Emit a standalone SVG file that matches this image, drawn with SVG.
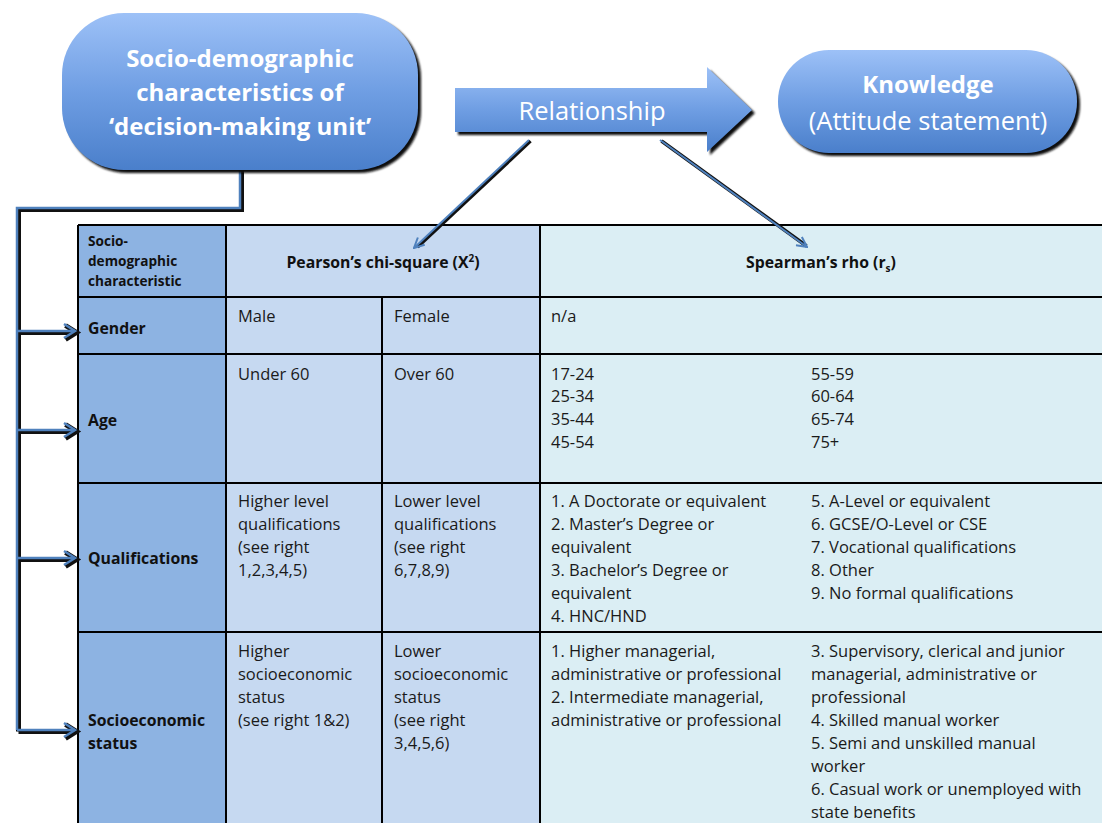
<svg xmlns="http://www.w3.org/2000/svg" width="1102" height="823" viewBox="0 0 1102 823">
  <defs>
    <linearGradient id="nodeFill" x1="0" y1="0" x2="0" y2="1">
      <stop offset="0" stop-color="#9dc1f7"/>
      <stop offset="0.5" stop-color="#6f9ee3"/>
      <stop offset="1" stop-color="#4a7fcb"/>
    </linearGradient>
    <filter id="soft" x="-10%" y="-10%" width="120%" height="130%">
      <feGaussianBlur stdDeviation="1.2"/>
    </filter>
    <marker id="vHead" viewBox="0 0 12 12" refX="11" refY="6" markerWidth="12" markerHeight="12" markerUnits="userSpaceOnUse" orient="auto">
      <path d="M1,1 L11,6 L1,11" fill="none" stroke="#4f81bd" stroke-width="2"/>
    </marker>
  </defs>
  <style>
    .head { font-family: "Open Sans", "Lato", sans-serif; font-size: 24px; fill: #ffffff; text-anchor: middle; }
    .reg { font-size: 25.5px; }
    .b { font-weight: bold; }
    .cell { font-family: "Open Sans", "Liberation Sans", sans-serif; font-size: 16.5px; fill: #1a1a1a; }
    .lab { font-family: "Open Sans", "Liberation Sans", sans-serif; font-size: 15.8px; font-weight: bold; fill: #111; }
    .small { font-family: "Open Sans", "Liberation Sans", sans-serif; font-size: 13.6px; font-weight: bold; fill: #111; }
    .grid { stroke: #000; stroke-width: 2; fill: none; }
    .shadow { fill: #111; filter: url(#soft); }
    .wireDark { fill: none; stroke: #111; stroke-width: 5; stroke-linejoin: miter; }
    .wire { fill: none; stroke: #4f81bd; stroke-width: 2.5; stroke-linejoin: miter; }
  </style>

  <rect width="1102" height="823" fill="#ffffff"/>

  <!-- table -->
  <g id="table">
    <rect x="78" y="225" width="148" height="600" fill="#8db3e2"/>
    <rect x="226" y="225" width="314" height="600" fill="#c6d9f1"/>
    <rect x="540" y="225" width="564" height="600" fill="#dbeef4"/>
    <path class="grid" d="M78,225 H1104 M78,297 H1104 M78,354 H1104 M78,483 H1104 M78,632 H1104 M78,225 V825 M226,225 V825 M382,297 V825 M540,225 V825"/>

    <text class="small" x="88" y="246">Socio-</text>
    <text class="small" x="88" y="266">demographic</text>
    <text class="small" x="88" y="286">characteristic</text>
    <text class="lab" x="383" y="268" text-anchor="middle" font-size="15">Pearson’s chi-square (X<tspan font-size="10" dy="-6">2</tspan><tspan dy="6">)</tspan></text>
    <text class="lab" x="821" y="268" text-anchor="middle" font-size="15">Spearman’s rho (r<tspan font-size="10" dy="4">s</tspan><tspan dy="-4">)</tspan></text>

    <text class="lab" x="88" y="334">Gender</text>
    <text class="cell" x="238" y="322">Male</text>
    <text class="cell" x="394" y="322">Female</text>
    <text class="cell" x="551" y="322">n/a</text>

    <text class="lab" x="88" y="426">Age</text>
    <text class="cell" x="238" y="380">Under 60</text>
    <text class="cell" x="394" y="380">Over 60</text>
    <text class="cell" x="551" y="380">17-24</text>
    <text class="cell" x="551" y="402">25-34</text>
    <text class="cell" x="551" y="425">35-44</text>
    <text class="cell" x="551" y="448">45-54</text>
    <text class="cell" x="811" y="380">55-59</text>
    <text class="cell" x="811" y="402">60-64</text>
    <text class="cell" x="811" y="425">65-74</text>
    <text class="cell" x="811" y="448">75+</text>

    <text class="lab" x="88" y="564">Qualifications</text>
    <text class="cell" x="238" y="507">Higher level</text>
    <text class="cell" x="238" y="530">qualifications</text>
    <text class="cell" x="238" y="553">(see right</text>
    <text class="cell" x="238" y="576">1,2,3,4,5)</text>
    <text class="cell" x="394" y="507">Lower level</text>
    <text class="cell" x="394" y="530">qualifications</text>
    <text class="cell" x="394" y="553">(see right</text>
    <text class="cell" x="394" y="576">6,7,8,9)</text>
    <text class="cell" x="551" y="507">1. A Doctorate or equivalent</text>
    <text class="cell" x="551" y="530">2. Master’s Degree or</text>
    <text class="cell" x="551" y="553">equivalent</text>
    <text class="cell" x="551" y="576">3. Bachelor’s Degree or</text>
    <text class="cell" x="551" y="599">equivalent</text>
    <text class="cell" x="551" y="622">4. HNC/HND</text>
    <text class="cell" x="811" y="507">5. A-Level or equivalent</text>
    <text class="cell" x="811" y="530">6. GCSE/O-Level or CSE</text>
    <text class="cell" x="811" y="553">7. Vocational qualifications</text>
    <text class="cell" x="811" y="576">8. Other</text>
    <text class="cell" x="811" y="599">9. No formal qualifications</text>

    <text class="lab" x="88" y="726">Socioeconomic</text>
    <text class="lab" x="88" y="749">status</text>
    <text class="cell" x="238" y="657">Higher</text>
    <text class="cell" x="238" y="680">socioeconomic</text>
    <text class="cell" x="238" y="703">status</text>
    <text class="cell" x="238" y="726">(see right 1&amp;2)</text>
    <text class="cell" x="394" y="657">Lower</text>
    <text class="cell" x="394" y="680">socioeconomic</text>
    <text class="cell" x="394" y="703">status</text>
    <text class="cell" x="394" y="726">(see right</text>
    <text class="cell" x="394" y="749">3,4,5,6)</text>
    <text class="cell" x="551" y="657">1. Higher managerial,</text>
    <text class="cell" x="551" y="680">administrative or professional</text>
    <text class="cell" x="551" y="703">2. Intermediate managerial,</text>
    <text class="cell" x="551" y="726">administrative or professional</text>
    <text class="cell" x="811" y="657">3. Supervisory, clerical and junior</text>
    <text class="cell" x="811" y="680">managerial, administrative or</text>
    <text class="cell" x="811" y="703">professional</text>
    <text class="cell" x="811" y="726">4. Skilled manual worker</text>
    <text class="cell" x="811" y="749">5. Semi and unskilled manual</text>
    <text class="cell" x="811" y="772">worker</text>
    <text class="cell" x="811" y="795">6. Casual work or unemployed with</text>
    <text class="cell" x="811" y="818">state benefits</text>
  </g>

  <!-- connectors -->
  <g id="connectors">
    <!-- elbow bus from the socio-demographic node to each table row -->
    <g transform="translate(1.5,1.5)">
      <path class="wireDark" d="M240,168 V208 H17 V730"/>
      <path class="wireDark" d="M17,331 H74 M17,430 H74 M17,558 H74 M17,730 H74"/>
      <path d="M64,324 L75,331 L64,338 M64,423 L75,430 L64,437 M64,551 L75,558 L64,565 M64,723 L75,730 L64,737" fill="none" stroke="#111" stroke-width="5"/>
    </g>
    <path class="wire" d="M240,168 V208 H17 V730"/>
    <path class="wire" d="M17,331 H74 M17,430 H74 M17,558 H74 M17,730 H74"/>
    <path d="M64,324 L75,331 L64,338 M64,423 L75,430 L64,437 M64,551 L75,558 L64,565 M64,723 L75,730 L64,737" fill="none" stroke="#4f81bd" stroke-width="2.5"/>

    <!-- links from the relationship arrow to each test column -->
    <path d="M529,140 L416,246" fill="none" stroke="#111" stroke-width="3.5" transform="translate(1.5,1)"/>
    <path d="M660,140 L805,245" fill="none" stroke="#111" stroke-width="3.5" transform="translate(1.5,1)"/>
    <path d="M529,140 L414,248" fill="none" stroke="#4f81bd" stroke-width="2" marker-end="url(#vHead)"/>
    <path d="M660,140 L807,247" fill="none" stroke="#4f81bd" stroke-width="2" marker-end="url(#vHead)"/>
  </g>

  <!-- socio-demographic node -->
  <g id="node-socio">
    <rect class="shadow" x="65" y="16" width="356" height="157" rx="62" ry="62"/>
    <rect x="62" y="13" width="356" height="157" rx="62" ry="62" fill="url(#nodeFill)"/>
    <text class="head b" x="240" y="67">Socio-demographic</text>
    <text class="head b" x="240" y="101">characteristics of</text>
    <text class="head b" x="240" y="135">‘decision-making unit’</text>
  </g>

  <!-- relationship arrow -->
  <g id="node-relationship">
    <path class="shadow" d="M458,91 H710 V70 L755,113 L710,155 V135 H458 Z"/>
    <path d="M455,88 H707 V67 L752,110 L707,152 V132 H455 Z" fill="url(#nodeFill)"/>
    <text class="head reg" x="592" y="120">Relationship</text>
  </g>

  <!-- knowledge node -->
  <g id="node-knowledge">
    <rect class="shadow" x="781" y="53" width="299" height="103" rx="51" ry="51"/>
    <rect x="778" y="50" width="299" height="103" rx="51" ry="51" fill="url(#nodeFill)"/>
    <text class="head b" x="928" y="93">Knowledge</text>
    <text class="head reg" x="928" y="130">(Attitude statement)</text>
  </g>
</svg>
